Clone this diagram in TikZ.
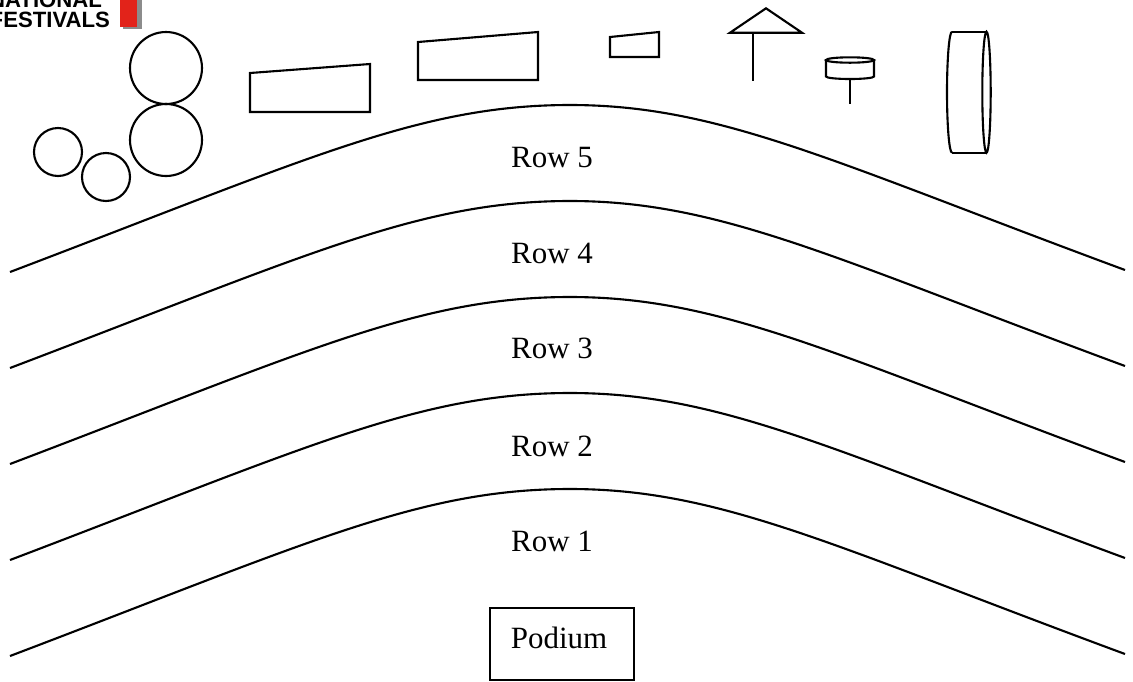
\documentclass[tikz,border=0pt]{standalone}
\usepackage{fontspec}
\setmainfont{Liberation Serif}
\newfontfamily\logofont{Liberation Sans}
\definecolor{logored}{RGB}{226,35,26}
\def\seatrow[#1](#2){\draw[#1] (10,#2) .. controls (310,{#2+114}) and (420,{#2+167}) .. (570,{#2+167}) .. controls (720,{#2+167}) and (833,{#2+110}) .. (1125,{#2+2});}

\begin{document}
\begin{tikzpicture}[x=0.01cm, y=0.01cm, line width=0.6pt]
				%%%%% START %%%%%
				\useasboundingbox (0,0) rectangle (1133,-681);
				
				\begin{scope}
					\clip (0,0) rectangle (1133,-681);
					\fill[black!45] (123,2) rectangle (142,-29);
					\fill[logored] (120,2) rectangle (137,-27);
					\node[anchor=base east, inner sep=0, font=\logofont\bfseries\fontsize{6.3}{7}\selectfont] (national) at (103,-7.5) {NATIONAL};
					\node[anchor=base east, inner sep=0, font=\logofont\bfseries\fontsize{6.3}{7}\selectfont] (festivals) at (111,-27) {FESTIVALS};
				\end{scope}
				
				\draw (166,-68) circle (36);
				\draw (166,-140) circle (36);
				\draw (58,-152) circle (24);
				\draw (106,-177) circle (24);
				
				\draw (250,-73) -- (370,-64) -- (370,-112) -- (250,-112) -- cycle;
				\draw (418,-42) -- (538,-32) -- (538,-80) -- (418,-80) -- cycle;
				\draw (610,-37) -- (659,-32) -- (659,-57) -- (610,-57) -- cycle;
				
				\draw (730,-32.7) -- (766,-8.3) -- (802,-32.7) -- cycle;
				\draw (753,-32.7) -- (753,-80.7);
				
				\draw (850,-60) ellipse [x radius=24, y radius=2.7];
				\draw (826,-60) -- (826,-76.5) arc[start angle=180, end angle=360, x radius=24, y radius=2.5] -- (874,-60);
				\draw (850,-79) -- (850,-104);
				
				\draw (952,-31.7) arc[start angle=90, end angle=270, x radius=5, y radius=60.5];
				\draw (952,-31.7) -- (986.5,-31.7);
				\draw (952,-152.7) -- (986.5,-152.7);
				\draw (986.5,-92.2) ellipse [x radius=4.2, y radius=60.5];
				
				\seatrow[](-272)
				\seatrow[](-368)
				\seatrow[](-464)
				\seatrow[](-560)
				\seatrow[](-656)
				
				\node[anchor=base, font=\fontsize{8.8}{10}\selectfont] (row5) at (552,-167) {Row 5};
				\node[anchor=base, font=\fontsize{8.8}{10}\selectfont] (row4) at (552,-263) {Row 4};
				\node[anchor=base, font=\fontsize{8.8}{10}\selectfont] (row3) at (552,-358) {Row 3};
				\node[anchor=base, font=\fontsize{8.8}{10}\selectfont] (row2) at (552,-456) {Row 2};
				\node[anchor=base, font=\fontsize{8.8}{10}\selectfont] (row1) at (552,-551) {Row 1};
				
				\draw (490,-608) rectangle (634,-680);
				\node[anchor=base, font=\fontsize{8.8}{10}\selectfont] (podium) at (559,-648) {Podium};
				%%%%% END %%%%%
\end{tikzpicture}
\end{document}
